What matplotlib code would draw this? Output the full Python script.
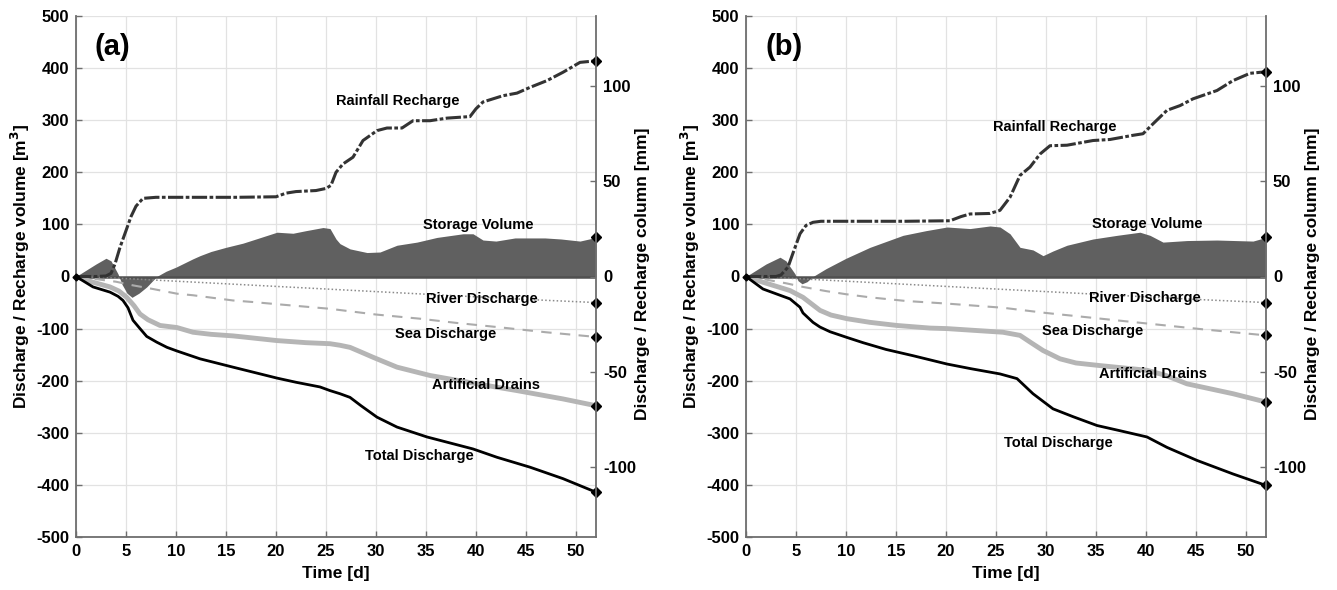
import matplotlib
matplotlib.use("Agg")
import matplotlib.pyplot as plt

plt.rcParams['font.family'] = ['Liberation Sans', 'DejaVu Sans']
plt.rcParams['font.weight'] = 'bold'
plt.rcParams['axes.unicode_minus'] = False

# ---------------- Panel (a) data ----------------
rain_a_t = [0, 2, 3, 3.5, 3.9, 4.4, 5, 5.5, 6, 6.7, 8, 12, 16, 20, 21, 22, 24, 25, 25.5, 26, 26.7, 27.7,
            28.7, 30.1, 31.1, 32.6, 33.7, 35.4, 37.1, 39.4, 40.0, 40.7, 42.7, 44.1, 45.4, 47.1, 48.7, 50.4, 52]
rain_a_v = [0, 0, 1, 6, 24, 56, 88, 115, 135, 150, 152, 152, 152, 153, 160, 163, 165, 169, 175, 200, 216, 229,
            261, 280, 285, 285, 299, 299, 304, 307, 322, 335, 347, 352, 363, 376, 392, 411, 414]

stor_a_t = [0, 1, 2, 3, 3.5, 4.2, 4.6, 5.1, 5.6, 6.3, 7.07, 8.07, 9, 10, 11.7, 12.4, 13.5, 15, 16.7, 18, 20.1,
            21.7, 23, 24.7, 25.4, 26, 26.4, 27.4, 29.1, 30.4, 32.1, 34.1, 36.1, 38.7, 39.7, 40.7, 42, 43.9,
            46.9, 48.5, 50.4, 52]
stor_a_v = [0, 12, 24, 35, 30, 5, -15, -32, -40, -32, -20, 0, 10, 18, 34, 40, 48, 56, 64, 72, 85,
            83, 88, 94, 92, 72, 63, 53, 46, 47, 60, 66, 75, 82, 82, 70, 68, 74,
            74, 72, 68, 75]

river_a_t = [0, 5, 10, 15, 20, 25, 30, 35, 40, 45, 52]
river_a_v = [0, -4, -9, -14, -19, -24, -29, -34, -39, -44, -50]

sea_a_t = [0, 2, 4, 5.7, 7.7, 10.1, 11.7, 15.7, 17.7, 20, 25.4, 30, 34.4, 38, 42.1, 47, 52]
sea_a_v = [0, -5, -10, -17, -24, -33, -36, -46, -49, -53, -62, -73, -81, -89, -97, -107, -116]

drain_a_t = [0, 1.7, 3.4, 4.3, 5.07, 5.8, 6.4, 7.2, 8.4, 10.1, 11.7, 13.5, 15.7, 16.7, 20.1, 23, 25.4, 26.4,
             27.4, 28.5, 29.7, 32.1, 35.4, 40.1, 44.1, 48.7, 52]
drain_a_v = [0, -11, -20, -28, -40, -56, -72, -83, -94, -98, -107, -111, -114, -116, -123, -127, -129, -132,
             -136, -145, -155, -174, -190, -206, -219, -235, -248]

total_a_t = [0, 1.7, 3.4, 4.2, 4.7, 5.2, 5.7, 6.4, 7.07, 8.07, 9.1, 10.1, 12.4, 15.7, 20.1, 22, 24.4, 25.4,
             26.4, 27.4, 28.5, 30.1, 32.1, 35.1, 37.5, 39.7, 42.1, 45.4, 48.7, 52]
total_a_v = [0, -20, -30, -38, -46, -60, -84, -100, -115, -126, -136, -143, -158, -174, -195, -203, -212, -219,
             -225, -232, -248, -270, -289, -308, -320, -331, -347, -366, -388, -414]

# ---------------- Panel (b) data ----------------
rain_b_t = [0, 3, 3.5, 4.2, 4.7, 5.4, 6, 6.7, 7.5, 12, 16, 20.4, 21.5, 22.4, 24.4, 25.4, 26.4, 27.4, 28.4,
            29.4, 30.4, 32.1, 34.7, 36.4, 38.7, 39.7, 40.7, 42.1, 43.4, 44.7, 47.1, 48.7, 50.4, 52]
rain_b_v = [0, 0, 3, 18, 45, 82, 98, 104, 106, 106, 106, 107, 115, 120, 121, 127, 152, 194, 210,
            235, 251, 252, 261, 263, 271, 274, 293, 319, 328, 341, 357, 376, 390, 393]

stor_b_t = [0, 1, 2, 3.4, 4, 4.9, 5.2, 5.6, 6.1, 6.7, 8, 10, 12.4, 15.7, 18, 20.1, 22.4, 24.4, 25.4, 26.4,
            27.4, 28.7, 29.7, 30.7, 32.1, 34.7, 37.1, 39.4, 40.4, 41.7, 44.1, 47.1, 50.7, 52]
stor_b_v = [0, 12, 24, 37, 30, 5, -8, -14, -10, 0, 15, 35, 56, 79, 88, 95, 92, 97, 95, 82,
            56, 51, 40, 49, 60, 72, 79, 85, 79, 66, 69, 70, 68, 75]

river_b_t = [0, 5, 10, 15, 20, 25, 30, 35, 40, 45, 52]
river_b_v = [0, -4, -9, -14, -19, -24, -29, -34, -39, -44, -50]

sea_b_t = [0, 2, 4, 5.7, 8, 10, 12.4, 16, 20.1, 25.7, 30, 35, 40, 46, 52]
sea_b_v = [0, -6, -13, -20, -28, -34, -40, -47, -52, -60, -70, -80, -90, -102, -113]

drain_b_t = [0, 1.7, 4.4, 5.7, 7.4, 8.5, 10.1, 12.4, 15.1, 18.4, 20.1, 25.7, 27.4, 28.5, 29.7, 31.4, 33,
             35.4, 40.1, 42, 44.1, 48.7, 52]
drain_b_v = [0, -11, -27, -40, -65, -74, -81, -88, -94, -99, -100, -107, -113, -127, -142, -158, -166,
             -171, -180, -190, -206, -225, -241]

total_b_t = [0, 1.7, 4.4, 5.4, 5.7, 6.7, 7.4, 8.4, 10.1, 11.7, 14, 16.7, 20.1, 22.5, 25.4, 27.1, 28.7,
             30.7, 32.7, 35.1, 37.4, 40.1, 42.1, 45.1, 48.7, 52]
total_b_v = [0, -24, -43, -59, -70, -88, -97, -106, -117, -127, -140, -152, -168, -177, -187, -196, -225,
             -254, -269, -286, -296, -308, -328, -353, -379, -401]

panel_labels = ['(a)', '(b)']
series_names = ['Rainfall Recharge', 'Storage Volume', 'River Discharge', 'Sea Discharge',
                'Artificial Drains', 'Total Discharge']
label_pos_a = [(32.2, 336), (40.2, 98), (40.6, -44), (37.0, -111), (41.0, -209), (34.3, -344)]
label_pos_b = [(30.9, 286), (40.1, 100), (39.9, -42), (34.7, -104), (40.7, -188), (31.2, -319)]

x_ticks = list(range(0, 51, 5))
y_ticks = list(range(-500, 501, 100))
y2_ticks = [-100, -50, 0, 50, 100]
RIGHT_LIM = 136.9

fig = plt.figure(figsize=(13.37, 5.9), dpi=100)

panels = [
    dict(rect=[76 / 1337, 53 / 590, 520 / 1337, 521 / 590], lab=panel_labels[0], pos=label_pos_a,
         rain=(rain_a_t, rain_a_v), stor=(stor_a_t, stor_a_v), river=(river_a_t, river_a_v),
         sea=(sea_a_t, sea_a_v), drain=(drain_a_t, drain_a_v), total=(total_a_t, total_a_v)),
    dict(rect=[746 / 1337, 53 / 590, 520 / 1337, 521 / 590], lab=panel_labels[1], pos=label_pos_b,
         rain=(rain_b_t, rain_b_v), stor=(stor_b_t, stor_b_v), river=(river_b_t, river_b_v),
         sea=(sea_b_t, sea_b_v), drain=(drain_b_t, drain_b_v), total=(total_b_t, total_b_v)),
]

spine_c = '#6e6e6e'
TICK_FS = 12
LABEL_FS = 12.5
for p in panels:
    ax = fig.add_axes(p['rect'])
    ax.set_xlim(0, 52)
    ax.set_ylim(-500, 500)
    ax.set_xticks(x_ticks)
    ax.set_yticks(y_ticks)
    ax.grid(True, color='#e2e2e2', lw=0.9, zorder=0)
    ax.set_axisbelow(True)
    for s in ['top', 'right']:
        ax.spines[s].set_visible(False)
    for s in ['left', 'bottom']:
        ax.spines[s].set_color(spine_c)
        ax.spines[s].set_linewidth(1.3)
    ax.tick_params(direction='in', length=4, width=1, color=spine_c, labelsize=TICK_FS, pad=5)
    for lbl in ax.get_xticklabels() + ax.get_yticklabels():
        lbl.set_fontweight('bold')

    st, sv = p['stor']
    ax.fill_between(st, 0, sv, color='#606060', lw=0, zorder=2)
    ax.axhline(0, color='#505050', lw=1.8, zorder=3)

    rt, rv = p['river']
    ax.plot(rt, rv, color='#8a8a8a', lw=1.1, ls=(0, (1, 1.5)), zorder=4)
    et, ev = p['sea']
    ax.plot(et, ev, color='#ababab', lw=1.5, ls=(0, (5, 4)), zorder=4)
    dt, dv = p['drain']
    ax.plot(dt, dv, color='#b5b5b5', lw=3.5, zorder=4, solid_capstyle='butt')
    tt, tv = p['total']
    ax.plot(tt, tv, color='black', lw=2.0, zorder=5)
    at, av = p['rain']
    ax.plot(at, av, color='#333333', lw=2.2, ls=(0, (5, 0.8, 1.2, 0.8)), zorder=5)

    for (xs, ys) in [p['rain'], p['stor'], p['river'], p['sea'], p['drain'], p['total']]:
        ax.plot([xs[-1]], [ys[-1]], marker='D', color='black', ms=5.5, zorder=7, clip_on=False)
    ax.plot([0], [0], marker='D', color='black', ms=3.5, zorder=7, clip_on=False)

    for name, (tx, ty) in zip(series_names, p['pos']):
        ax.text(tx, ty, name, ha='center', va='center', fontsize=10.5, fontweight='bold', zorder=8)

    ax.text(1.9, 441, p['lab'], ha='left', va='center', fontsize=21, fontweight='bold')
    ax.set_xlabel('Time [d]', fontsize=LABEL_FS, fontweight='bold', labelpad=5)
    ax.set_ylabel('Discharge / Recharge volume [m$^\\mathbf{3}$]', fontsize=LABEL_FS, fontweight='bold',
                  va='center')
    ax.yaxis.set_label_coords(-0.107, 0.52)

    ax2 = ax.twinx()
    ax2.set_ylim(-RIGHT_LIM, RIGHT_LIM)
    ax2.set_yticks(y2_ticks)
    for s in ['top', 'left', 'bottom']:
        ax2.spines[s].set_visible(False)
    ax2.spines['right'].set_color(spine_c)
    ax2.spines['right'].set_linewidth(1.3)
    ax2.tick_params(direction='in', length=4, width=1, color=spine_c, labelsize=TICK_FS, pad=5)
    for lbl in ax2.get_yticklabels():
        lbl.set_fontweight('bold')
    ax2.set_ylabel('Discharge / Recharge column [mm]', fontsize=LABEL_FS, fontweight='bold', va='center')
    ax2.yaxis.set_label_coords(1.09, 0.505)

fig.savefig('out.png', dpi=100)
